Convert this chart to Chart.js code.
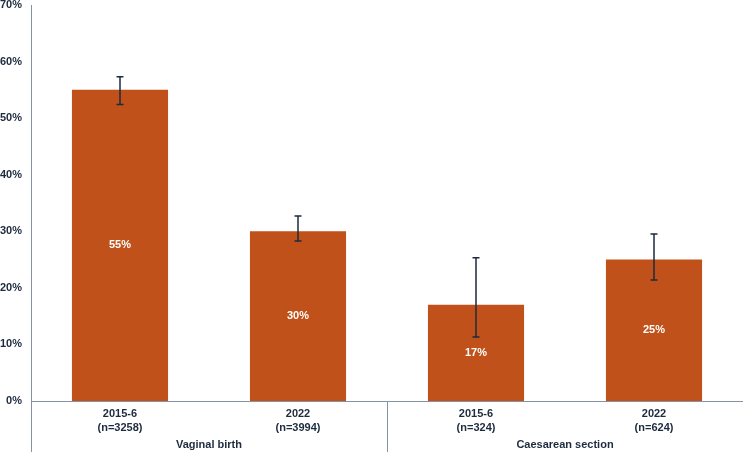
<!DOCTYPE html>
<html>
<head>
<meta charset="utf-8">
<script src="https://cdn.jsdelivr.net/npm/chart.js@4"></script>
<style>
    html, body { margin: 0; padding: 0; background: #ffffff; }
    #wrap { width: 744px; height: 452px; position: relative; }
</style>
</head>
<body>
<div id="wrap"><canvas id="chart"></canvas></div>
<script>
// Chart data
const periods = ['2015-6', '2022', '2015-6', '2022'];
const sampleSizes = ['(n=3258)', '(n=3994)', '(n=324)', '(n=624)'];
const groups = ['Vaginal birth', 'Caesarean section'];
const groupSize = 2;
const percentValues = [55, 30, 17, 25];
const errorLow = [52.4, 28.3, 11.3, 21.4];
const errorHigh = [57.3, 32.7, 25.3, 29.5];

const BAR_COLOR = '#C1511A';
const INK = '#1d2b3e';
const AXIS_COLOR = '#8592a3';

/**
 * Draws error bars, in-bar labels, the axis lines and the group labels
 */
const decorPlugin = {
    id: 'decorPlugin',
    afterDatasetsDraw: function(chart) {
        const ctx = chart.ctx;
        const yScale = chart.scales.y;
        const xScale = chart.scales.x;
        const area = chart.chartArea;
        const meta = chart.getDatasetMeta(0);

        // value labels in the middle of each bar
        ctx.save();
        ctx.font = 'bold 11px "Liberation Sans", Arial, sans-serif';
        ctx.fillStyle = '#ffffff';
        ctx.textAlign = 'center';
        ctx.textBaseline = 'middle';
        meta.data.forEach((bar, i) => {
            const yMid = (bar.y + bar.base) / 2;
            ctx.fillText(percentValues[i] + '%', bar.x, yMid);
        });
        ctx.restore();

        // error bars
        ctx.save();
        ctx.strokeStyle = INK;
        ctx.lineWidth = 1.5;
        meta.data.forEach((bar, i) => {
            const yLo = yScale.getPixelForValue(errorLow[i]);
            const yHi = yScale.getPixelForValue(errorHigh[i]);
            ctx.beginPath();
            ctx.moveTo(bar.x, yLo);
            ctx.lineTo(bar.x, yHi);
            ctx.moveTo(bar.x - 3.5, yLo);
            ctx.lineTo(bar.x + 3.5, yLo);
            ctx.moveTo(bar.x - 3.5, yHi);
            ctx.lineTo(bar.x + 3.5, yHi);
            ctx.stroke();
        });
        ctx.restore();

        // axis lines, extended down through the category area
        ctx.save();
        ctx.strokeStyle = AXIS_COLOR;
        ctx.lineWidth = 1;
        const left = Math.round(area.left) + 0.5;
        const bottom = Math.round(area.bottom) + 0.5;
        ctx.beginPath();
        ctx.moveTo(left, area.top);
        ctx.lineTo(left, chart.height);
        ctx.moveTo(left, bottom);
        ctx.lineTo(area.right, bottom);
        for (let g = 1; g < groups.length; g++) {
            const a = xScale.getPixelForValue(g * groupSize - 1);
            const b = xScale.getPixelForValue(g * groupSize);
            const xDiv = Math.round((a + b) / 2) + 0.5;
            ctx.moveTo(xDiv, bottom);
            ctx.lineTo(xDiv, chart.height);
        }
        ctx.stroke();
        ctx.restore();

        // group labels
        ctx.save();
        ctx.font = 'bold 11px "Liberation Sans", Arial, sans-serif';
        ctx.fillStyle = INK;
        ctx.textAlign = 'center';
        ctx.textBaseline = 'middle';
        groups.forEach((name, g) => {
            const first = xScale.getPixelForValue(g * groupSize);
            const last = xScale.getPixelForValue(g * groupSize + groupSize - 1);
            ctx.fillText(name, (first + last) / 2, area.bottom + 44);
        });
        ctx.restore();
    }
};

const labels = periods.map((p, i) => [p, sampleSizes[i]]);

new Chart(document.getElementById('chart').getContext('2d'), {
    type: 'bar',
    data: {
        labels: labels,
        datasets: [{
            data: percentValues,
            backgroundColor: BAR_COLOR,
            borderWidth: 0,
            categoryPercentage: 1.0,
            barPercentage: 0.54
        }]
    },
    options: {
        responsive: true,
        maintainAspectRatio: false,
        animation: false,
        layout: { padding: { top: 5, right: 1, left: 0, bottom: 0 } },
        plugins: {
            legend: { display: false },
            tooltip: { enabled: false }
        },
        scales: {
            y: {
                min: 0,
                max: 70,
                ticks: {
                    stepSize: 10,
                    color: INK,
                    padding: 9,
                    font: { family: '"Liberation Sans", Arial, sans-serif', size: 11, weight: 'bold' },
                    callback: function(value) {
                        return value + '%';
                    }
                },
                grid: { display: false, drawTicks: false },
                border: { display: false },
                afterFit: function(scale) {
                    scale.width = 31;
                    scale.paddingTop = 0;
                    scale.paddingBottom = 0;
                }
            },
            x: {
                ticks: {
                    color: INK,
                    padding: 6,
                    maxRotation: 0,
                    font: { family: '"Liberation Sans", Arial, sans-serif', size: 11, weight: 'bold', lineHeight: 1.3 }
                },
                grid: { display: false, drawTicks: false },
                border: { display: false },
                afterFit: function(scale) {
                    scale.height = 51;
                    scale.paddingLeft = 0;
                    scale.paddingRight = 0;
                }
            }
        }
    },
    plugins: [decorPlugin]
});
</script>
</body>
</html>
